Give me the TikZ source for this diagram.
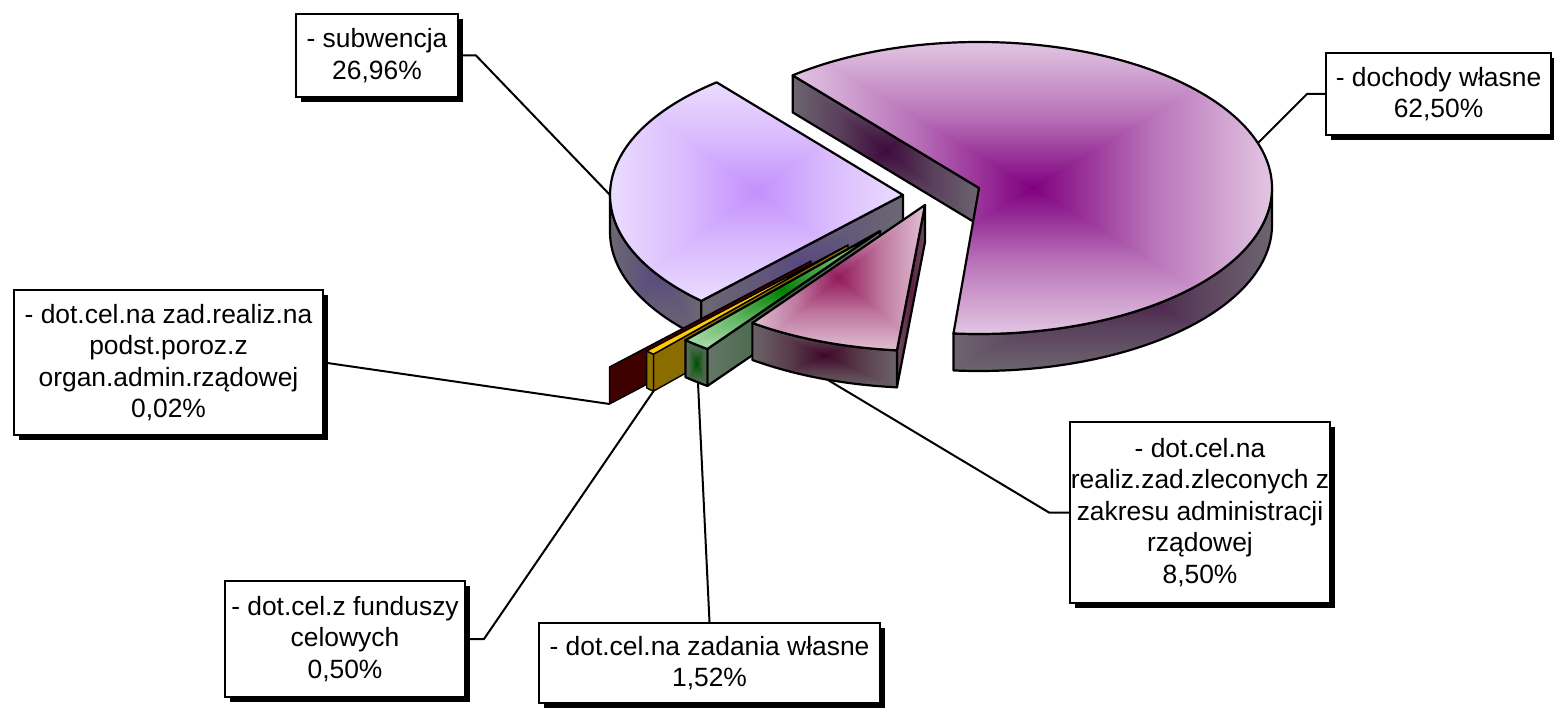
\documentclass[tikz,border=0pt]{standalone}
\usepackage{fontspec}
\setmainfont{Liberation Sans}
\usetikzlibrary{calc,shadows}
\definecolor{dIn}{HTML}{800080}\definecolor{dOut}{HTML}{E2C6E2}
\definecolor{dwIn}{HTML}{3E0B3E}\definecolor{dwOut}{HTML}{6D6570}
\definecolor{sIn}{HTML}{C490FC}\definecolor{sOut}{HTML}{EADCFF}
\definecolor{swIn}{HTML}{574880}\definecolor{swOut}{HTML}{6D6772}
\definecolor{pIn}{HTML}{931A5C}\definecolor{pOut}{HTML}{E0BFD2}
\definecolor{prIn}{HTML}{3F0828}\definecolor{prOut}{HTML}{6C6368}
\definecolor{pwIn}{HTML}{5C1F42}\definecolor{pwOut}{HTML}{6E4A5E}
\definecolor{gIn}{HTML}{008000}\definecolor{gOut}{HTML}{AEDDAE}
\definecolor{grIn}{HTML}{005000}\definecolor{grOut}{HTML}{607262}
\definecolor{gwIn}{HTML}{2F5F35}\definecolor{gwOut}{HTML}{657566}
\definecolor{brownwall}{HTML}{3F0000}
\definecolor{yelwall}{HTML}{8A6C00}
\definecolor{yelrim}{HTML}{937300}
\definecolor{yeltop}{HTML}{FFCC00}
\newcommand\lblfont{\fontsize{26.4pt}{31.5pt}\selectfont}
% #1 path, #2 xmin #3 ymin #4 xmax #5 ymax (image coords, y down), #6 inner, #7 outer
\newcommand\gface[7]{%
  \begin{scope}
    \clip #1;
    \coordinate (gc) at ({(#2+#4)/2},{-(#3+#5)/2});
    \colorlet{gmid}{#6!42!#7}%
    \shade[top color=#7,bottom color=#6,middle color=gmid] (#2,-#3) rectangle (#4,{-(#3+#5)/2});
    \shade[top color=#6,bottom color=#7,middle color=gmid] (#2,{-(#3+#5)/2}) rectangle (#4,-#5);
    \shade[left color=#7,right color=#6,middle color=gmid] (#2,-#3) -- (#2,-#5) -- (gc) -- cycle;
    \shade[left color=#6,right color=#7,middle color=gmid] (#4,-#3) -- (#4,-#5) -- (gc) -- cycle;
  \end{scope}
  \draw[pieline] #1;
}
\tikzset{
  rr/.style={x radius=293pt, y radius=146pt},
  pieline/.style={draw=black, line width=2.2pt, line join=round},
  thinline/.style={draw=black, line width=1.4pt, line join=round},
  conn/.style={draw=black, line width=2pt},
  lbl/.style={draw=black, line width=2pt, fill=white, align=center, inner sep=0pt,
    font=\lblfont, general shadow={fill=black, shadow xshift=5pt, shadow yshift=-5pt}}
}
\begin{document}
\begin{tikzpicture}[x=1pt,y=1pt]
\useasboundingbox (0,0) rectangle (1554,-708);
\coordinate (D) at (979,-188);
\coordinate (S) at (903,-195);
\coordinate (B) at (811,-261);
\coordinate (Y) at (848,-245);
\coordinate (G) at (880,-231);
\coordinate (P) at (925,-205);
% dochody wlasne
\gface{($(D)+(-95:293 and 146)$) arc[rr,start angle=-95,end angle=0] -- ++(0,-37) arc[rr,start angle=0,end angle=-95] -- cycle}{953.5}{188}{1272}{371}{dwIn}{dwOut}
\gface{(D) -- ++(129.5:293 and 146) -- ++(0,-37) -- ($(D)+(0,-37)$) -- cycle}{792.5}{75.4}{979}{225}{dwIn}{dwOut}
\gface{(D) -- ++(129.5:293 and 146) arc[rr,start angle=129.5,end angle=-95] -- cycle}{792.5}{42}{1272}{334}{dIn}{dOut}
% subwencja
\gface{($(S)+(180:293 and 146)$) arc[rr,start angle=180,end angle=226.5] -- ++(0,-37) arc[rr,start angle=226.5,end angle=180] -- cycle}{610}{195}{701.3}{337.9}{swIn}{swOut}
\gface{(S) -- ++(226.5:293 and 146) -- ++(0,-37) -- ($(S)+(0,-37)$) -- cycle}{701.3}{195}{903}{337.9}{swIn}{swOut}
\gface{(S) -- ++(129.5:293 and 146) arc[rr,start angle=129.5,end angle=226.5] -- cycle}{610}{82.4}{903}{300.9}{sIn}{sOut}
% brown 0,02%
\draw[thinline, fill=brownwall] (B) -- ++(226.55:293 and 146) -- ++(0,-37) -- ($(B)+(0,-37)$) -- cycle;
% yellow 0,50%
\draw[thinline, fill=yelwall] (Y) -- ++(228.4:293 and 146) -- ++(0,-37) -- ($(Y)+(0,-37)$) -- cycle;
\draw[thinline, fill=yelrim] ($(Y)+(226.6:293 and 146)$) arc[rr,start angle=226.6,end angle=228.4] -- ++(0,-37) arc[rr,start angle=228.4,end angle=226.6] -- cycle;
\draw[thinline, fill=yeltop] (Y) -- ++(226.6:293 and 146) arc[rr,start angle=226.6,end angle=228.4] -- cycle;
% green 1,52%
\gface{(G) -- ++(233.9:293 and 146) -- ++(0,-37) -- ($(G)+(0,-37)$) -- cycle}{707.4}{231}{880}{386}{gwIn}{gwOut}
\gface{($(G)+(228.4:293 and 146)$) arc[rr,start angle=228.4,end angle=233.9] -- ++(0,-37) arc[rr,start angle=233.9,end angle=228.4] -- cycle}{685.4}{340.2}{707.4}{386}{grIn}{grOut}
\gface{(G) -- ++(228.4:293 and 146) arc[rr,start angle=228.4,end angle=233.9] -- cycle}{685.4}{231}{880}{349}{gIn}{gOut}
% pink 8,50%
\gface{(P) -- ++(264.5:293 and 146) -- ++(0,-37) -- ($(P)+(0,-37)$) -- cycle}{896.9}{205}{925}{387.3}{pwIn}{pwOut}
\gface{($(P)+(233.9:293 and 146)$) arc[rr,start angle=233.9,end angle=264.5] -- ++(0,-37) arc[rr,start angle=264.5,end angle=233.9] -- cycle}{752.4}{323}{896.9}{387.3}{prIn}{prOut}
\gface{(P) -- ++(233.9:293 and 146) arc[rr,start angle=233.9,end angle=264.5] -- cycle}{752.4}{205}{925}{350.3}{pIn}{pOut}
% connector end points
\coordinate (cSub) at (610,-195);
\coordinate (cDoch) at (1258,-143);
\coordinate (cBrown) at ($(B)+(226.55:293 and 146)+(0,-37)$);
\coordinate (cYel) at ($(Y)+(228.4:293 and 146)+(0,-37)$);
\coordinate (cGreen) at (698,-383);
\coordinate (cPink) at (828,-380);
% labels
\node[lbl, minimum width=162pt, minimum height=83pt] (nsub) at (377,-55.5) {- subwencja\\26,96\%};
\node[lbl, minimum width=225pt, minimum height=82pt] (ndoch) at (1438.5,-94) {- dochody własne\\62,50\%};
\node[lbl, minimum width=309pt, minimum height=145pt] (nzr) at (168.5,-362.5) {- dot.cel.na zad.realiz.na\\podst.poroz.z\\organ.admin.rządowej\\0,02\%};
\node[lbl, minimum width=260pt, minimum height=181pt] (nrz) at (1200,-512.5) {- dot.cel.na\\realiz.zad.zleconych z\\zakresu administracji\\rządowej\\8,50\%};
\node[lbl, minimum width=240pt, minimum height=116pt] (nfc) at (345,-639) {- dot.cel.z funduszy\\celowych\\0,50\%};
\node[lbl, minimum width=341pt, minimum height=80pt] (nzw) at (709.5,-663) {- dot.cel.na zadania własne\\1,52\%};
% connectors
\draw[conn] (nsub.east) -- ++(17,0) -- (cSub);
\draw[conn] (ndoch.west) -- ++(-18,0) -- (cDoch);
\draw[conn] (nzr.east) -- (cBrown);
\draw[conn] (nfc.east) -- ++(18,0) -- (cYel);
\draw[conn] (nzw.north) -- (cGreen);
\draw[conn] (nrz.west) -- ++(-20,0) -- (cPink);
\end{tikzpicture}
\end{document}
